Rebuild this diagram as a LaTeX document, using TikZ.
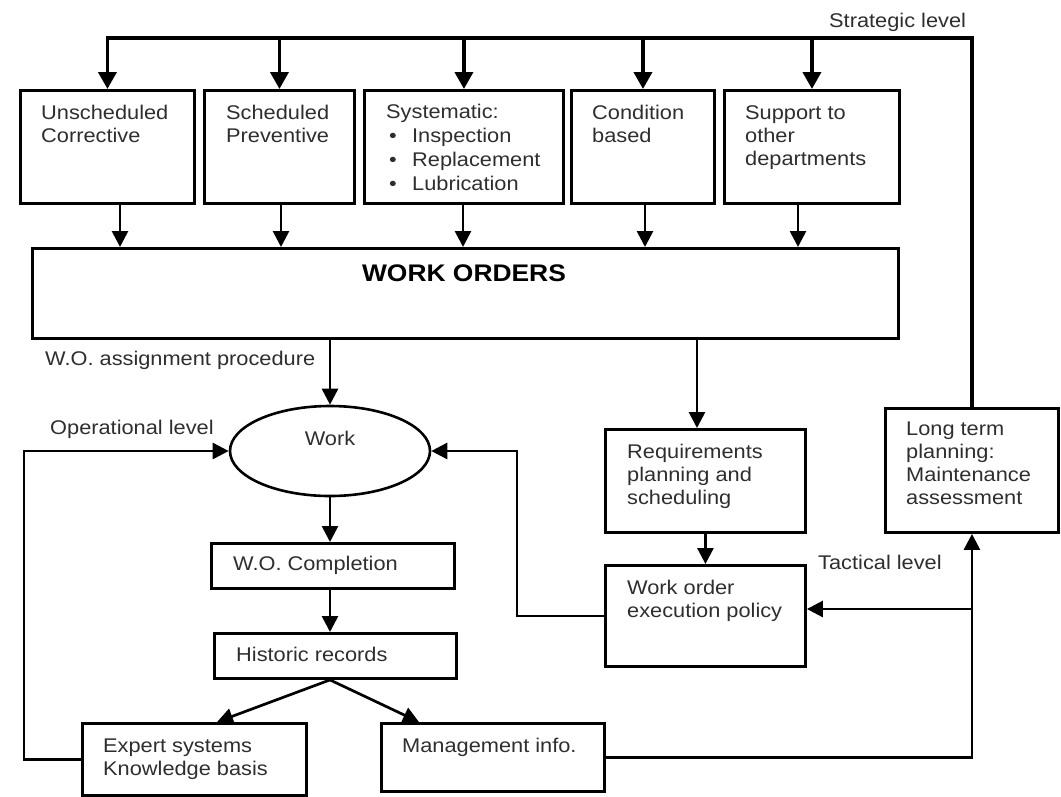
\documentclass[tikz,border=0pt]{standalone}
\usepackage{fontspec}
\setmainfont{Liberation Sans}[FakeStretch=1.1]
\usetikzlibrary{arrows.meta,shapes.geometric}
\begin{document}
\begin{tikzpicture}[x=1pt,y=-1pt,
  box/.style={draw, line width=2.9pt, rectangle, inner sep=0pt, anchor=north west},
  txt/.style={anchor=base west, inner sep=0pt, align=left, font=\fontsize{19.8}{23}\selectfont, text=black!82},
  ctxt/.style={txt, anchor=base},
  con/.style={line width=2.7pt, -{Triangle[width=16pt,length=16pt]}},
  bus/.style={line width=3.8pt, -{Triangle[width=18pt,length=17pt]}},
]
\useasboundingbox (0,0) rectangle (1061,796);
% boxes
\node[box, minimum width=174pt, minimum height=113pt] (b1) at (19,89) {};
\node[box, minimum width=150pt, minimum height=113pt] (b2) at (203,89) {};
\node[box, minimum width=199pt, minimum height=113pt] (b3) at (363,89) {};
\node[box, minimum width=143pt, minimum height=113pt] (b4) at (570,89) {};
\node[box, minimum width=175pt, minimum height=113pt] (b5) at (723,89) {};
\node[box, minimum width=866pt, minimum height=90pt] (wo) at (31,247) {};
\node[draw, ellipse, line width=2.6pt, minimum width=200pt, minimum height=90pt, inner sep=0pt] (work) at (330,451) {};
\node[box, minimum width=200pt, minimum height=103pt] (req) at (604,428) {};
\node[box, minimum width=200pt, minimum height=101pt] (woep) at (604,564) {};
\node[box, minimum width=173pt, minimum height=124pt] (lt) at (884,407) {};
\node[box, minimum width=243pt, minimum height=45pt] (woc) at (210,542) {};
\node[box, minimum width=242pt, minimum height=45pt] (hist) at (213,632) {};
\node[box, minimum width=224pt, minimum height=72pt] (exp) at (81,722) {};
\node[box, minimum width=223pt, minimum height=68pt] (mgmt) at (380,722) {};
% texts (anchor = baseline of last line)
\node[txt] (t1) at (41,142) {Unscheduled\\Corrective};
\node[txt] (t2) at (226,142) {Scheduled\\Preventive};
\node[txt, font=\fontsize{19.8}{23.7}\selectfont] (t3) at (386,190) {Systematic:\\\hspace*{3pt}\makebox[23pt][l]{\textbullet}Inspection\\\hspace*{3pt}\makebox[23pt][l]{\textbullet}Replacement\\\hspace*{3pt}\makebox[23pt][l]{\textbullet}Lubrication};
\node[txt] (t4) at (592,142) {Condition\\based};
\node[txt] (t5) at (745,165) {Support to\\other\\departments};
\node[txt] (tstrat) at (829,27) {Strategic level};
\node[ctxt, font=\bfseries\fontsize{24}{28}\selectfont, text=black] (two) at (464,281) {WORK ORDERS};
\node[txt] (tassign) at (45,365) {W.O. assignment procedure};
\node[txt] (toper) at (50,434) {Operational level};
\node[ctxt] (twork) at (330,445) {Work};
\node[txt] (treq) at (627,504) {Requirements\\planning and\\scheduling};
\node[txt] (twoep) at (627,617) {Work order\\execution policy};
\node[txt] (ttact) at (818,569) {Tactical level};
\node[txt] (tlt) at (906,504) {Long term\\planning:\\Maintenance\\assessment};
\node[txt] (twoc) at (233,570) {W.O. Completion};
\node[txt] (thist) at (236,661) {Historic records};
\node[txt] (texp) at (103,775) {Expert systems\\Knowledge basis};
\node[txt] (tmgmt) at (402,752) {Management info.};
% helper coordinates
\coordinate (busy) at (0,38);
\coordinate (x1) at (120,0);
\coordinate (x2) at (281,0);
\coordinate (x3) at (463,0);
\coordinate (x4) at (645,0);
\coordinate (x5) at (798,0);
\coordinate (xreq) at (697,0);
\coordinate (xe1) at (217,0);
\coordinate (xe2) at (419,0);
\coordinate (loopL) at (24,0);
\coordinate (loopR) at (517,0);
\coordinate (tj) at (0,609);
% strategic bus
\draw[bus] (lt.north) |- (b1.north |- busy) -- (b1.north);
\draw[bus] (b2.north |- busy) -- (b2.north);
\draw[bus] (b3.north |- busy) -- (b3.north);
\draw[bus] (b4.north |- busy) -- (b4.north);
\draw[bus] (b5.north |- busy) -- (b5.north);
% into work orders
\draw[con] (b1.south -| x1) -- (wo.north -| x1);
\draw[con] (b2.south -| x2) -- (wo.north -| x2);
\draw[con] (b3.south -| x3) -- (wo.north -| x3);
\draw[con] (b4.south -| x4) -- (wo.north -| x4);
\draw[con] (b5.south -| x5) -- (wo.north -| x5);
% flows
\draw[con] (wo.south -| work) -- (work.north);
\draw[con] (wo.south -| xreq) -- (req.north -| xreq);
\draw[con] (req.south) -- (woep.north);
\draw[con] (work.south) -- (woc.north -| work);
\draw[con] (woc.south -| work) -- (hist.north -| work);
\draw[con] (hist.south -| work) -- (exp.north -| xe1);
\draw[con] (hist.south -| work) -- (mgmt.north -| xe2);
\draw[con] (exp.west) -- (exp.west -| loopL) |- (work.west);
\draw[con] (woep.west) -- (woep.west -| loopR) |- (work.east);
\draw[con] (mgmt.east) -| (lt.south);
\draw[con] (lt.south |- tj) -- (woep.east |- tj);
\end{tikzpicture}
\end{document}
